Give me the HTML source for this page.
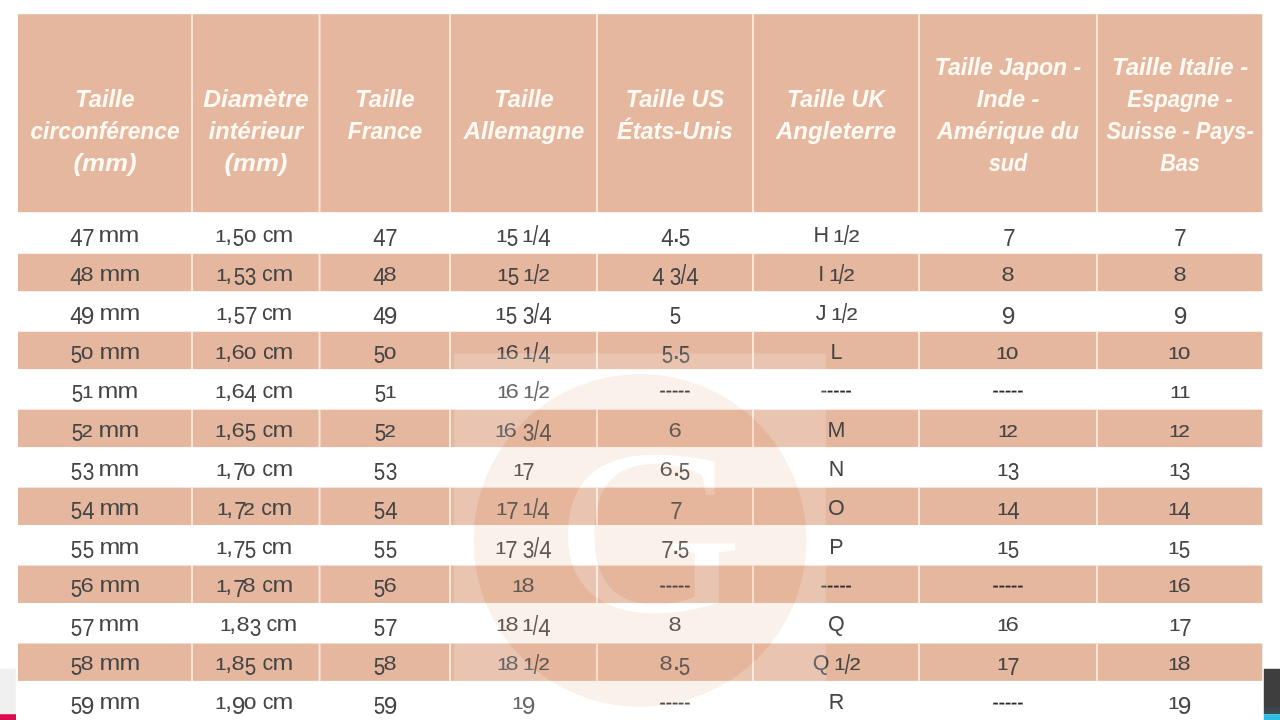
<!DOCTYPE html>
<html lang="fr">
<head>
<meta charset="utf-8">
<title>Guide des tailles de bagues</title>
<style>

html,body{margin:0;padding:0;}
body{width:1280px;height:720px;overflow:hidden;background:#fff;position:relative;font-family:"Liberation Sans",sans-serif;}
.tl{position:absolute;left:0;top:0;width:1280px;height:720px;will-change:transform;}
svg.bg,svg.wm{position:absolute;left:0;top:0;width:1280px;height:720px;display:block;}
.hl{position:absolute;white-space:nowrap;color:#FFFAF3;font-weight:bold;font-style:italic;font-size:23px;line-height:30px;height:30px;width:300px;margin-left:-150px;text-align:center;transform-origin:center center;}
.c{position:absolute;white-space:pre;color:#454545;font-size:21.5px;line-height:30px;height:30px;width:200px;margin-left:-100px;text-align:center;letter-spacing:-0.3px;}
.c i{font-style:normal;display:inline-block;position:relative;line-height:0;vertical-align:baseline;text-align:center;letter-spacing:0;transform-origin:center center;}
.c i.g0{font-size:16.2px;width:12.3px;transform:scaleX(1.36);top:0px;-webkit-text-stroke:0.18px currentColor;}
.c i.g1{font-size:17.0px;width:8.8px;transform:scaleX(1.18);top:0px;-webkit-text-stroke:0.18px currentColor;}
.c i.g2{font-size:16.6px;width:10.2px;transform:scaleX(1.22);top:0px;-webkit-text-stroke:0.18px currentColor;}
.c i.g3{font-size:24.0px;width:11.1px;transform:scaleX(0.87);top:4.3px;}
.c i.g4{font-size:23.0px;width:11.7px;transform:scaleX(0.97);top:4.3px;}
.c i.g5{font-size:24.0px;width:11.7px;transform:scaleX(0.86);top:4.3px;}
.c i.g6{font-size:21.0px;width:12.2px;transform:scaleX(1.14);top:0px;}
.c i.g7{font-size:23.0px;width:10.8px;transform:scaleX(0.96);top:4.3px;}
.c i.g8{font-size:21.0px;width:12.2px;transform:scaleX(1.12);top:0px;}
.c i.g9{font-size:23.6px;width:12.0px;transform:scaleX(1.04);top:4.3px;}
.c i.gs{font-size:27.0px;width:5.9px;transform:scaleX(0.72);top:3.4px;}
.c i.gc{font-size:22.0px;width:7.2px;transform:scaleX(1.1);top:0px;}
.c i.gp{font-size:21.5px;width:6.6px;transform:scaleX(1.0);top:0px;}
.c i.gh{font-size:18.6px;width:6.2px;transform:scaleX(1.0);top:-0.8px;color:#2b2b2b;-webkit-text-stroke:0.25px #2b2b2b;}
.c i.gm{font-size:21.5px;width:19.6px;transform:scaleX(1.16);top:0px;}
.c i.gd{font-size:29.0px;width:5.4px;transform:scaleX(1.0);top:0px;}
.c i.gq{font-size:21.5px;width:5.7px;transform:scaleX(1.0);top:0px;}

</style>
</head>
<body>
<svg class="bg" viewBox="0 0 1280 720">
<rect x="18" y="14.2" width="1244.3" height="198.0" fill="#E5B79F"/>
<rect x="18" y="253.80" width="1244.3" height="37.4" fill="#E5B79F"/>
<rect x="18" y="331.74" width="1244.3" height="37.4" fill="#E5B79F"/>
<rect x="18" y="409.68" width="1244.3" height="37.4" fill="#E5B79F"/>
<rect x="18" y="487.62" width="1244.3" height="37.4" fill="#E5B79F"/>
<rect x="18" y="565.56" width="1244.3" height="37.4" fill="#E5B79F"/>
<rect x="18" y="643.50" width="1244.3" height="37.4" fill="#E5B79F"/>
<rect x="191.00" y="14.2" width="2" height="198.0" fill="#FDE6D8"/>
<rect x="191.00" y="253.80" width="2" height="37.4" fill="#FDE6D8"/>
<rect x="191.00" y="331.74" width="2" height="37.4" fill="#FDE6D8"/>
<rect x="191.00" y="409.68" width="2" height="37.4" fill="#FDE6D8"/>
<rect x="191.00" y="487.62" width="2" height="37.4" fill="#FDE6D8"/>
<rect x="191.00" y="565.56" width="2" height="37.4" fill="#FDE6D8"/>
<rect x="191.00" y="643.50" width="2" height="37.4" fill="#FDE6D8"/>
<rect x="318.50" y="14.2" width="2" height="198.0" fill="#FDE6D8"/>
<rect x="318.50" y="253.80" width="2" height="37.4" fill="#FDE6D8"/>
<rect x="318.50" y="331.74" width="2" height="37.4" fill="#FDE6D8"/>
<rect x="318.50" y="409.68" width="2" height="37.4" fill="#FDE6D8"/>
<rect x="318.50" y="487.62" width="2" height="37.4" fill="#FDE6D8"/>
<rect x="318.50" y="565.56" width="2" height="37.4" fill="#FDE6D8"/>
<rect x="318.50" y="643.50" width="2" height="37.4" fill="#FDE6D8"/>
<rect x="449.00" y="14.2" width="2" height="198.0" fill="#FDE6D8"/>
<rect x="449.00" y="253.80" width="2" height="37.4" fill="#FDE6D8"/>
<rect x="449.00" y="331.74" width="2" height="37.4" fill="#FDE6D8"/>
<rect x="449.00" y="409.68" width="2" height="37.4" fill="#FDE6D8"/>
<rect x="449.00" y="487.62" width="2" height="37.4" fill="#FDE6D8"/>
<rect x="449.00" y="565.56" width="2" height="37.4" fill="#FDE6D8"/>
<rect x="449.00" y="643.50" width="2" height="37.4" fill="#FDE6D8"/>
<rect x="596.00" y="14.2" width="2" height="198.0" fill="#FDE6D8"/>
<rect x="596.00" y="253.80" width="2" height="37.4" fill="#FDE6D8"/>
<rect x="596.00" y="331.74" width="2" height="37.4" fill="#FDE6D8"/>
<rect x="596.00" y="409.68" width="2" height="37.4" fill="#FDE6D8"/>
<rect x="596.00" y="487.62" width="2" height="37.4" fill="#FDE6D8"/>
<rect x="596.00" y="565.56" width="2" height="37.4" fill="#FDE6D8"/>
<rect x="596.00" y="643.50" width="2" height="37.4" fill="#FDE6D8"/>
<rect x="752.00" y="14.2" width="2" height="198.0" fill="#FDE6D8"/>
<rect x="752.00" y="253.80" width="2" height="37.4" fill="#FDE6D8"/>
<rect x="752.00" y="331.74" width="2" height="37.4" fill="#FDE6D8"/>
<rect x="752.00" y="409.68" width="2" height="37.4" fill="#FDE6D8"/>
<rect x="752.00" y="487.62" width="2" height="37.4" fill="#FDE6D8"/>
<rect x="752.00" y="565.56" width="2" height="37.4" fill="#FDE6D8"/>
<rect x="752.00" y="643.50" width="2" height="37.4" fill="#FDE6D8"/>
<rect x="918.00" y="14.2" width="2" height="198.0" fill="#FDE6D8"/>
<rect x="918.00" y="253.80" width="2" height="37.4" fill="#FDE6D8"/>
<rect x="918.00" y="331.74" width="2" height="37.4" fill="#FDE6D8"/>
<rect x="918.00" y="409.68" width="2" height="37.4" fill="#FDE6D8"/>
<rect x="918.00" y="487.62" width="2" height="37.4" fill="#FDE6D8"/>
<rect x="918.00" y="565.56" width="2" height="37.4" fill="#FDE6D8"/>
<rect x="918.00" y="643.50" width="2" height="37.4" fill="#FDE6D8"/>
<rect x="1096.00" y="14.2" width="2" height="198.0" fill="#FDE6D8"/>
<rect x="1096.00" y="253.80" width="2" height="37.4" fill="#FDE6D8"/>
<rect x="1096.00" y="331.74" width="2" height="37.4" fill="#FDE6D8"/>
<rect x="1096.00" y="409.68" width="2" height="37.4" fill="#FDE6D8"/>
<rect x="1096.00" y="487.62" width="2" height="37.4" fill="#FDE6D8"/>
<rect x="1096.00" y="565.56" width="2" height="37.4" fill="#FDE6D8"/>
<rect x="1096.00" y="643.50" width="2" height="37.4" fill="#FDE6D8"/>
<rect x="0" y="668.8" width="15.8" height="45.4" fill="#F0F0F0"/>
<rect x="0" y="714.2" width="16" height="6" fill="#D80C4F"/>
<defs><linearGradient id="dk" x1="0" y1="0" x2="0" y2="1"><stop offset="0" stop-color="#3E3E3E"/><stop offset="0.8" stop-color="#3E3E3E"/><stop offset="1" stop-color="#35505c"/></linearGradient></defs>
<rect x="1263.8" y="668.8" width="16.2" height="45.6" fill="url(#dk)"/>
<rect x="1263.8" y="714.4" width="16.2" height="6" fill="#2BBFE3"/>
</svg>
<div class="tl">
<div class="hl" id="h0_0" style="left:105px;top:84.1px;transform:scaleX(1.0232)">Taille</div>
<div class="hl" id="h0_1" style="left:105px;top:116.1px;transform:scaleX(0.9886)">circonférence</div>
<div class="hl" id="h0_2" style="left:105px;top:148.3px;transform:scaleX(1.1236)">(mm)</div>
<div class="hl" id="h1_0" style="left:255.75px;top:84.1px;transform:scaleX(1.0722)">Diamètre</div>
<div class="hl" id="h1_1" style="left:255.75px;top:116.1px;transform:scaleX(1.0261)">intérieur</div>
<div class="hl" id="h1_2" style="left:255.75px;top:148.3px;transform:scaleX(1.1182)">(mm)</div>
<div class="hl" id="h2_0" style="left:384.75px;top:84.1px;transform:scaleX(1.0232)">Taille</div>
<div class="hl" id="h2_1" style="left:384.75px;top:116.1px;transform:scaleX(0.9867)">France</div>
<div class="hl" id="h3_0" style="left:523.5px;top:84.1px;transform:scaleX(1.0232)">Taille</div>
<div class="hl" id="h3_1" style="left:523.5px;top:116.1px;transform:scaleX(1.0345)">Allemagne</div>
<div class="hl" id="h4_0" style="left:675px;top:84.1px;transform:scaleX(1.0234)">Taille US</div>
<div class="hl" id="h4_1" style="left:675px;top:116.1px;transform:scaleX(1.0177)">États-Unis</div>
<div class="hl" id="h5_0" style="left:836.3px;top:84.1px;transform:scaleX(1.0031)">Taille UK</div>
<div class="hl" id="h5_1" style="left:836.3px;top:116.1px;transform:scaleX(1.0435)">Angleterre</div>
<div class="hl" id="h6_0" style="left:1008.3px;top:52.1px;transform:scaleX(1.0028)">Taille Japon -</div>
<div class="hl" id="h6_1" style="left:1008.3px;top:84.1px;transform:scaleX(1.0217)">Inde -</div>
<div class="hl" id="h6_2" style="left:1008.3px;top:116.1px;transform:scaleX(1.0113)">Amérique du</div>
<div class="hl" id="h6_3" style="left:1008.3px;top:148.3px;transform:scaleX(0.9463)">sud</div>
<div class="hl" id="h7_0" style="left:1180.3px;top:52.1px;transform:scaleX(1.0414)">Taille Italie -</div>
<div class="hl" id="h7_1" style="left:1180.3px;top:84.1px;transform:scaleX(0.9596)">Espagne -</div>
<div class="hl" id="h7_2" style="left:1180.3px;top:116.1px;transform:scaleX(0.9439)">Suisse - Pays-</div>
<div class="hl" id="h7_3" style="left:1180.3px;top:148.3px;transform:scaleX(0.9390)">Bas</div>
<div class="c" id="c0_0" style="left:104.4px;top:219.7px"><i class="g4">4</i><i class="g7">7</i><i class="gp"> </i><i class="gm">m</i><i class="gm">m</i></div>
<div class="c" id="c0_1" style="left:254.4px;top:219.7px"><i class="g1">1</i><i class="gc">,</i><i class="g5">5</i><i class="g0">0</i><i class="gp"> </i>c<i class="gm">m</i></div>
<div class="c" id="c0_2" style="left:384.6px;top:219.7px"><i class="g4">4</i><i class="g7">7</i></div>
<div class="c" id="c0_3" style="left:523.3px;top:219.7px"><i class="g1">1</i><i class="g5">5</i><i class="gq"> </i><i class="g1">1</i><i class="gs">/</i><i class="g4">4</i></div>
<div class="c" id="c0_4" style="left:675.0px;top:219.7px"><i class="g4">4</i><i class="gd">.</i><i class="g5">5</i></div>
<div class="c" id="c0_5" style="left:836.3px;top:219.7px">H<i class="gq"> </i><i class="g1">1</i><i class="gs">/</i><i class="g2">2</i></div>
<div class="c" id="c0_6" style="left:1008.0px;top:219.7px"><i class="g7">7</i></div>
<div class="c" id="c0_7" style="left:1179.6px;top:219.7px"><i class="g7">7</i></div>
<div class="c" id="c1_0" style="left:104.4px;top:258.7px"><i class="g4">4</i><i class="g8">8</i><i class="gp"> </i><i class="gm">m</i><i class="gm">m</i></div>
<div class="c" id="c1_1" style="left:254.4px;top:258.7px"><i class="g1">1</i><i class="gc">,</i><i class="g5">5</i><i class="g3">3</i><i class="gp"> </i>c<i class="gm">m</i></div>
<div class="c" id="c1_2" style="left:384.6px;top:258.7px"><i class="g4">4</i><i class="g8">8</i></div>
<div class="c" id="c1_3" style="left:523.3px;top:258.7px"><i class="g1">1</i><i class="g5">5</i><i class="gq"> </i><i class="g1">1</i><i class="gs">/</i><i class="g2">2</i></div>
<div class="c" id="c1_4" style="left:675.0px;top:258.7px"><i class="g4">4</i><i class="gq"> </i><i class="g3">3</i><i class="gs">/</i><i class="g4">4</i></div>
<div class="c" id="c1_5" style="left:836.3px;top:258.7px">I<i class="gq"> </i><i class="g1">1</i><i class="gs">/</i><i class="g2">2</i></div>
<div class="c" id="c1_6" style="left:1008.0px;top:258.7px"><i class="g8">8</i></div>
<div class="c" id="c1_7" style="left:1179.6px;top:258.7px"><i class="g8">8</i></div>
<div class="c" id="c2_0" style="left:104.4px;top:297.6px"><i class="g4">4</i><i class="g9">9</i><i class="gp"> </i><i class="gm">m</i><i class="gm">m</i></div>
<div class="c" id="c2_1" style="left:254.4px;top:297.6px"><i class="g1">1</i><i class="gc">,</i><i class="g5">5</i><i class="g7">7</i><i class="gp"> </i>c<i class="gm">m</i></div>
<div class="c" id="c2_2" style="left:384.6px;top:297.6px"><i class="g4">4</i><i class="g9">9</i></div>
<div class="c" id="c2_3" style="left:523.3px;top:297.6px"><i class="g1">1</i><i class="g5">5</i><i class="gq"> </i><i class="g3">3</i><i class="gs">/</i><i class="g4">4</i></div>
<div class="c" id="c2_4" style="left:675.0px;top:297.6px"><i class="g5">5</i></div>
<div class="c" id="c2_5" style="left:836.3px;top:297.6px">J<i class="gq"> </i><i class="g1">1</i><i class="gs">/</i><i class="g2">2</i></div>
<div class="c" id="c2_6" style="left:1008.0px;top:297.6px"><i class="g9">9</i></div>
<div class="c" id="c2_7" style="left:1179.6px;top:297.6px"><i class="g9">9</i></div>
<div class="c" id="c3_0" style="left:104.4px;top:336.6px"><i class="g5">5</i><i class="g0">0</i><i class="gp"> </i><i class="gm">m</i><i class="gm">m</i></div>
<div class="c" id="c3_1" style="left:254.4px;top:336.6px"><i class="g1">1</i><i class="gc">,</i><i class="g6">6</i><i class="g0">0</i><i class="gp"> </i>c<i class="gm">m</i></div>
<div class="c" id="c3_2" style="left:384.6px;top:336.6px"><i class="g5">5</i><i class="g0">0</i></div>
<div class="c" id="c3_3" style="left:523.3px;top:336.6px"><i class="g1">1</i><i class="g6">6</i><i class="gq"> </i><i class="g1">1</i><i class="gs">/</i><i class="g4">4</i></div>
<div class="c" id="c3_4" style="left:675.0px;top:336.6px"><i class="g5">5</i><i class="gd">.</i><i class="g5">5</i></div>
<div class="c" id="c3_5" style="left:836.3px;top:336.6px">L</div>
<div class="c" id="c3_6" style="left:1008.0px;top:336.6px"><i class="g1">1</i><i class="g0">0</i></div>
<div class="c" id="c3_7" style="left:1179.6px;top:336.6px"><i class="g1">1</i><i class="g0">0</i></div>
<div class="c" id="c4_0" style="left:104.4px;top:375.6px"><i class="g5">5</i><i class="g1">1</i><i class="gp"> </i><i class="gm">m</i><i class="gm">m</i></div>
<div class="c" id="c4_1" style="left:254.4px;top:375.6px"><i class="g1">1</i><i class="gc">,</i><i class="g6">6</i><i class="g4">4</i><i class="gp"> </i>c<i class="gm">m</i></div>
<div class="c" id="c4_2" style="left:384.6px;top:375.6px"><i class="g5">5</i><i class="g1">1</i></div>
<div class="c" id="c4_3" style="left:523.3px;top:375.6px"><i class="g1">1</i><i class="g6">6</i><i class="gq"> </i><i class="g1">1</i><i class="gs">/</i><i class="g2">2</i></div>
<div class="c" id="c4_4" style="left:675.0px;top:375.6px"><i class="gh">-</i><i class="gh">-</i><i class="gh">-</i><i class="gh">-</i><i class="gh">-</i></div>
<div class="c" id="c4_5" style="left:836.3px;top:375.6px"><i class="gh">-</i><i class="gh">-</i><i class="gh">-</i><i class="gh">-</i><i class="gh">-</i></div>
<div class="c" id="c4_6" style="left:1008.0px;top:375.6px"><i class="gh">-</i><i class="gh">-</i><i class="gh">-</i><i class="gh">-</i><i class="gh">-</i></div>
<div class="c" id="c4_7" style="left:1179.6px;top:375.6px"><i class="g1">1</i><i class="g1">1</i></div>
<div class="c" id="c5_0" style="left:104.4px;top:414.5px"><i class="g5">5</i><i class="g2">2</i><i class="gp"> </i><i class="gm">m</i><i class="gm">m</i></div>
<div class="c" id="c5_1" style="left:254.4px;top:414.5px"><i class="g1">1</i><i class="gc">,</i><i class="g6">6</i><i class="g5">5</i><i class="gp"> </i>c<i class="gm">m</i></div>
<div class="c" id="c5_2" style="left:384.6px;top:414.5px"><i class="g5">5</i><i class="g2">2</i></div>
<div class="c" id="c5_3" style="left:523.3px;top:414.5px"><i class="g1">1</i><i class="g6">6</i><i class="gq"> </i><i class="g3">3</i><i class="gs">/</i><i class="g4">4</i></div>
<div class="c" id="c5_4" style="left:675.0px;top:414.5px"><i class="g6">6</i></div>
<div class="c" id="c5_5" style="left:836.3px;top:414.5px">M</div>
<div class="c" id="c5_6" style="left:1008.0px;top:414.5px"><i class="g1">1</i><i class="g2">2</i></div>
<div class="c" id="c5_7" style="left:1179.6px;top:414.5px"><i class="g1">1</i><i class="g2">2</i></div>
<div class="c" id="c6_0" style="left:104.4px;top:453.5px"><i class="g5">5</i><i class="g3">3</i><i class="gp"> </i><i class="gm">m</i><i class="gm">m</i></div>
<div class="c" id="c6_1" style="left:254.4px;top:453.5px"><i class="g1">1</i><i class="gc">,</i><i class="g7">7</i><i class="g0">0</i><i class="gp"> </i>c<i class="gm">m</i></div>
<div class="c" id="c6_2" style="left:384.6px;top:453.5px"><i class="g5">5</i><i class="g3">3</i></div>
<div class="c" id="c6_3" style="left:523.3px;top:453.5px"><i class="g1">1</i><i class="g7">7</i></div>
<div class="c" id="c6_4" style="left:675.0px;top:453.5px"><i class="g6">6</i><i class="gd">.</i><i class="g5">5</i></div>
<div class="c" id="c6_5" style="left:836.3px;top:453.5px">N</div>
<div class="c" id="c6_6" style="left:1008.0px;top:453.5px"><i class="g1">1</i><i class="g3">3</i></div>
<div class="c" id="c6_7" style="left:1179.6px;top:453.5px"><i class="g1">1</i><i class="g3">3</i></div>
<div class="c" id="c7_0" style="left:104.4px;top:492.5px"><i class="g5">5</i><i class="g4">4</i><i class="gp"> </i><i class="gm">m</i><i class="gm">m</i></div>
<div class="c" id="c7_1" style="left:254.4px;top:492.5px"><i class="g1">1</i><i class="gc">,</i><i class="g7">7</i><i class="g2">2</i><i class="gp"> </i>c<i class="gm">m</i></div>
<div class="c" id="c7_2" style="left:384.6px;top:492.5px"><i class="g5">5</i><i class="g4">4</i></div>
<div class="c" id="c7_3" style="left:523.3px;top:492.5px"><i class="g1">1</i><i class="g7">7</i><i class="gq"> </i><i class="g1">1</i><i class="gs">/</i><i class="g4">4</i></div>
<div class="c" id="c7_4" style="left:675.0px;top:492.5px"><i class="g7">7</i></div>
<div class="c" id="c7_5" style="left:836.3px;top:492.5px">O</div>
<div class="c" id="c7_6" style="left:1008.0px;top:492.5px"><i class="g1">1</i><i class="g4">4</i></div>
<div class="c" id="c7_7" style="left:1179.6px;top:492.5px"><i class="g1">1</i><i class="g4">4</i></div>
<div class="c" id="c8_0" style="left:104.4px;top:531.5px"><i class="g5">5</i><i class="g5">5</i><i class="gp"> </i><i class="gm">m</i><i class="gm">m</i></div>
<div class="c" id="c8_1" style="left:254.4px;top:531.5px"><i class="g1">1</i><i class="gc">,</i><i class="g7">7</i><i class="g5">5</i><i class="gp"> </i>c<i class="gm">m</i></div>
<div class="c" id="c8_2" style="left:384.6px;top:531.5px"><i class="g5">5</i><i class="g5">5</i></div>
<div class="c" id="c8_3" style="left:523.3px;top:531.5px"><i class="g1">1</i><i class="g7">7</i><i class="gq"> </i><i class="g3">3</i><i class="gs">/</i><i class="g4">4</i></div>
<div class="c" id="c8_4" style="left:675.0px;top:531.5px"><i class="g7">7</i><i class="gd">.</i><i class="g5">5</i></div>
<div class="c" id="c8_5" style="left:836.3px;top:531.5px">P</div>
<div class="c" id="c8_6" style="left:1008.0px;top:531.5px"><i class="g1">1</i><i class="g5">5</i></div>
<div class="c" id="c8_7" style="left:1179.6px;top:531.5px"><i class="g1">1</i><i class="g5">5</i></div>
<div class="c" id="c9_0" style="left:104.4px;top:570.4px"><i class="g5">5</i><i class="g6">6</i><i class="gp"> </i><i class="gm">m</i><i class="gm">m</i></div>
<div class="c" id="c9_1" style="left:254.4px;top:570.4px"><i class="g1">1</i><i class="gc">,</i><i class="g7">7</i><i class="g8">8</i><i class="gp"> </i>c<i class="gm">m</i></div>
<div class="c" id="c9_2" style="left:384.6px;top:570.4px"><i class="g5">5</i><i class="g6">6</i></div>
<div class="c" id="c9_3" style="left:523.3px;top:570.4px"><i class="g1">1</i><i class="g8">8</i></div>
<div class="c" id="c9_4" style="left:675.0px;top:570.4px"><i class="gh">-</i><i class="gh">-</i><i class="gh">-</i><i class="gh">-</i><i class="gh">-</i></div>
<div class="c" id="c9_5" style="left:836.3px;top:570.4px"><i class="gh">-</i><i class="gh">-</i><i class="gh">-</i><i class="gh">-</i><i class="gh">-</i></div>
<div class="c" id="c9_6" style="left:1008.0px;top:570.4px"><i class="gh">-</i><i class="gh">-</i><i class="gh">-</i><i class="gh">-</i><i class="gh">-</i></div>
<div class="c" id="c9_7" style="left:1179.6px;top:570.4px"><i class="g1">1</i><i class="g6">6</i></div>
<div class="c" id="c10_0" style="left:104.4px;top:609.4px"><i class="g5">5</i><i class="g7">7</i><i class="gp"> </i><i class="gm">m</i><i class="gm">m</i></div>
<div class="c" id="c10_1" style="left:258.6px;top:609.4px"><i class="g1">1</i><i class="gc">,</i><i class="g8">8</i><i class="g3">3</i><i class="gp"> </i>c<i class="gm">m</i></div>
<div class="c" id="c10_2" style="left:384.6px;top:609.4px"><i class="g5">5</i><i class="g7">7</i></div>
<div class="c" id="c10_3" style="left:523.3px;top:609.4px"><i class="g1">1</i><i class="g8">8</i><i class="gq"> </i><i class="g1">1</i><i class="gs">/</i><i class="g4">4</i></div>
<div class="c" id="c10_4" style="left:675.0px;top:609.4px"><i class="g8">8</i></div>
<div class="c" id="c10_5" style="left:836.3px;top:609.4px">Q</div>
<div class="c" id="c10_6" style="left:1008.0px;top:609.4px"><i class="g1">1</i><i class="g6">6</i></div>
<div class="c" id="c10_7" style="left:1179.6px;top:609.4px"><i class="g1">1</i><i class="g7">7</i></div>
<div class="c" id="c11_0" style="left:104.4px;top:648.4px"><i class="g5">5</i><i class="g8">8</i><i class="gp"> </i><i class="gm">m</i><i class="gm">m</i></div>
<div class="c" id="c11_1" style="left:254.4px;top:648.4px"><i class="g1">1</i><i class="gc">,</i><i class="g8">8</i><i class="g5">5</i><i class="gp"> </i>c<i class="gm">m</i></div>
<div class="c" id="c11_2" style="left:384.6px;top:648.4px"><i class="g5">5</i><i class="g8">8</i></div>
<div class="c" id="c11_3" style="left:523.3px;top:648.4px"><i class="g1">1</i><i class="g8">8</i><i class="gq"> </i><i class="g1">1</i><i class="gs">/</i><i class="g2">2</i></div>
<div class="c" id="c11_4" style="left:675.0px;top:648.4px"><i class="g8">8</i><i class="gd">.</i><i class="g5">5</i></div>
<div class="c" id="c11_5" style="left:836.3px;top:648.4px">Q<i class="gq"> </i><i class="g1">1</i><i class="gs">/</i><i class="g2">2</i></div>
<div class="c" id="c11_6" style="left:1008.0px;top:648.4px"><i class="g1">1</i><i class="g7">7</i></div>
<div class="c" id="c11_7" style="left:1179.6px;top:648.4px"><i class="g1">1</i><i class="g8">8</i></div>
<div class="c" id="c12_0" style="left:104.4px;top:687.3px"><i class="g5">5</i><i class="g9">9</i><i class="gp"> </i><i class="gm">m</i><i class="gm">m</i></div>
<div class="c" id="c12_1" style="left:254.4px;top:687.3px"><i class="g1">1</i><i class="gc">,</i><i class="g9">9</i><i class="g0">0</i><i class="gp"> </i>c<i class="gm">m</i></div>
<div class="c" id="c12_2" style="left:384.6px;top:687.3px"><i class="g5">5</i><i class="g9">9</i></div>
<div class="c" id="c12_3" style="left:523.3px;top:687.3px"><i class="g1">1</i><i class="g9">9</i></div>
<div class="c" id="c12_4" style="left:675.0px;top:687.3px"><i class="gh">-</i><i class="gh">-</i><i class="gh">-</i><i class="gh">-</i><i class="gh">-</i></div>
<div class="c" id="c12_5" style="left:836.3px;top:687.3px">R</div>
<div class="c" id="c12_6" style="left:1008.0px;top:687.3px"><i class="gh">-</i><i class="gh">-</i><i class="gh">-</i><i class="gh">-</i><i class="gh">-</i></div>
<div class="c" id="c12_7" style="left:1179.6px;top:687.3px"><i class="g1">1</i><i class="g9">9</i></div>
</div>
<svg class="wm" viewBox="0 0 1280 720">
<g opacity="0.185">
<rect x="454.3" y="353.4" width="371.4" height="372" fill="#fff"/>
<circle cx="640" cy="540.5" r="166.5" fill="#E8B194"/>
<text transform="translate(557.5 611) scale(1.09 1.0)" x="0" y="0" font-family="Liberation Serif, serif" font-size="236" fill="#fff">G</text>
</g>
</svg>
</body>
</html>
